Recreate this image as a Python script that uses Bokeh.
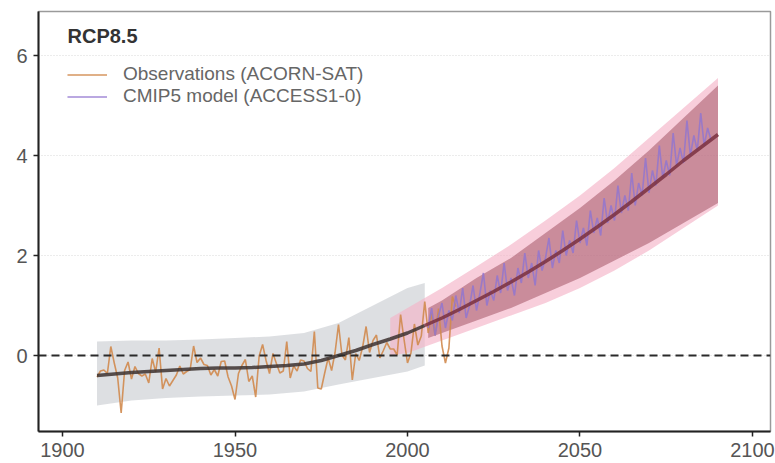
from bokeh.plotting import figure
from bokeh.models import Span, Legend, LegendItem, Label, FixedTicker
from bokeh.embed import file_html
from bokeh.resources import INLINE

# ---- data ----
obs_years = list(range(1910, 2015))
obs_values = [-0.43, -0.31, -0.29, -0.36, 0.18, -0.15, -0.45, -1.15, -0.30, -0.13,
              -0.47, -0.22, -0.36, -0.41, -0.37, -0.55, -0.06, -0.33, 0.15, -0.67,
              -0.46, -0.61, -0.50, -0.39, -0.21, -0.37, -0.32, -0.28, 0.19, -0.14,
              -0.05, -0.18, -0.20, -0.39, -0.28, -0.41, -0.12, -0.11, -0.43, -0.61,
              -0.88, -0.36, -0.20, -0.08, -0.52, -0.41, -0.83, -0.01, 0.22, -0.10,
              -0.36, 0.04, -0.16, -0.35, -0.31, 0.28, -0.45, -0.21, -0.31, -0.09,
              -0.11, -0.26, -0.32, 0.48, -0.65, -0.67, -0.35, -0.05, -0.30, 0.06,
              0.62, 0.01, -0.09, 0.36, -0.49, 0.04, -0.10, 0.17, 0.58, 0.06,
              0.30, 0.41, -0.05, 0.10, 0.26, 0.13, 0.13, 0.01, 0.82, 0.32,
              -0.15, 0.05, 0.63, 0.21, 0.39, 1.08, 0.45, 0.84, 0.40, 0.94,
              0.19, -0.15, 0.15, 1.18, 0.98]

model_years = list(range(2006, 2089))
model_values = [0.55, 0.95, 0.40, 0.80, 1.05, 0.55, 0.90, 0.70, 1.20, 0.85,
                1.35, 0.75, 1.00, 1.40, 0.90, 1.25, 1.65, 1.00, 1.30, 1.10,
                1.60, 1.25, 1.85, 1.30, 1.55, 1.20, 1.75, 1.45, 2.05, 1.55,
                1.85, 1.40, 2.10, 1.70, 1.95, 2.35, 1.75, 2.10, 1.85, 2.50,
                2.00, 2.30, 2.05, 2.70, 2.25, 2.55, 2.20, 2.90, 2.45, 2.75,
                2.40, 3.15, 2.65, 3.00, 2.70, 3.40, 2.85, 3.20, 2.90, 3.65,
                3.00, 3.45, 3.20, 3.95, 3.25, 3.70, 3.40, 4.20, 3.55, 3.90,
                3.60, 4.45, 3.80, 4.15, 3.85, 4.70, 4.00, 4.40, 4.10, 4.85,
                4.20, 4.55, 4.30]

trend_years = list(range(1910, 2095, 5))
trend_values = [-0.40, -0.37, -0.34, -0.32, -0.30, -0.28, -0.26, -0.25, -0.25, -0.24,
                -0.22, -0.20, -0.17, -0.10, 0.00, 0.10, 0.22, 0.33, 0.45, 0.60,
                0.75, 0.92, 1.10, 1.28, 1.47, 1.67, 1.88, 2.10, 2.33, 2.57,
                2.82, 3.08, 3.35, 3.62, 3.90, 4.16, 4.42]

grey_years = [1910, 1920, 1930, 1940, 1950, 1960, 1970, 1980, 1990, 2000, 2005]
grey_low = [-1.00, -0.90, -0.85, -0.82, -0.80, -0.78, -0.72, -0.58, -0.45, -0.32, -0.20]
grey_high = [0.28, 0.30, 0.30, 0.32, 0.35, 0.38, 0.45, 0.65, 1.00, 1.35, 1.45]

pink_years = [1995, 2000, 2010, 2020, 2030, 2040, 2050, 2060, 2070, 2080, 2090]
pink_low = [0.00, 0.05, 0.30, 0.55, 0.80, 1.05, 1.35, 1.70, 2.10, 2.55, 3.00]
pink_high = [0.75, 0.95, 1.35, 1.78, 2.22, 2.70, 3.20, 3.75, 4.35, 4.95, 5.55]

maroon_years = [2006, 2010, 2020, 2030, 2040, 2050, 2060, 2070, 2080, 2090]
maroon_low = [0.35, 0.45, 0.70, 0.95, 1.25, 1.55, 1.90, 2.25, 2.65, 3.05]
maroon_high = [0.95, 1.10, 1.55, 1.95, 2.45, 2.95, 3.50, 4.10, 4.75, 5.40]

x_ticks = [1900, 1950, 2000, 2050, 2100]
y_ticks = [0, 2, 4, 6]
legend_title = "RCP8.5"
obs_label = "Observations (ACORN-SAT)"
model_label = "CMIP5 model (ACCESS1-0)"

FONT = "Liberation Sans"

p = figure(width=775, height=463, x_range=(1893.04, 2105.22), y_range=(-1.52, 6.88),
           output_backend="svg", toolbar_location=None,
           min_border_left=38, min_border_right=5, min_border_top=11, min_border_bottom=32)
p.background_fill_color = "white"
p.border_fill_color = "white"
p.outline_line_color = "#9a9a9a"
p.outline_line_width = 1.5

# grid
p.xgrid.grid_line_color = None
p.ygrid.ticker = FixedTicker(ticks=y_ticks)
p.ygrid.grid_line_color = "#d8d8d8"
p.ygrid.grid_line_dash = "1 2"
p.ygrid.grid_line_width = 1

# bands
p.varea(x=grey_years, y1=grey_low, y2=grey_high, fill_color="#cfd2d5", fill_alpha=0.7)
p.varea(x=pink_years, y1=pink_low, y2=pink_high, fill_color="#f5b3c8", fill_alpha=0.65)
p.varea(x=maroon_years, y1=maroon_low, y2=maroon_high, fill_color="#9c4a5c", fill_alpha=0.5)

# annual series
obs_r = p.line(obs_years, obs_values, line_color="#d08a4e", line_width=1.6, line_alpha=0.9)
mod_r = p.line(model_years, model_values, line_color="#9275cf", line_width=1.6, line_alpha=0.85)

# trend
t_obs_x = [y for y in trend_years if y <= 2005]
t_obs_y = [v for y, v in zip(trend_years, trend_values) if y <= 2005]
t_mod_x = [y for y in trend_years if y >= 2005]
t_mod_y = [v for y, v in zip(trend_years, trend_values) if y >= 2005]
p.line(t_obs_x, t_obs_y, line_color="#3d3330", line_width=3.5, line_alpha=0.85)
p.line(t_mod_x, t_mod_y, line_color="#7a3040", line_width=3.5, line_alpha=0.85)

# zero line
p.add_layout(Span(location=0, dimension="width", line_color="#2a2a2a", line_width=2,
                  line_dash="8 5"))

# axes
for ax in (p.xaxis[0], p.yaxis[0]):
    ax.axis_line_color = "#222222"
    ax.axis_line_width = 2
    ax.major_tick_line_color = "#222222"
    ax.major_tick_line_width = 1.5
    ax.major_tick_out = 5
    ax.major_tick_in = 0
    ax.minor_tick_line_color = None
    ax.major_label_text_font = FONT
    ax.major_label_text_font_size = "20px"
    ax.major_label_text_color = "#555555"
p.xaxis.major_label_standoff = 6
p.yaxis.major_label_standoff = 6
p.xaxis.ticker = FixedTicker(ticks=x_ticks)
p.yaxis.ticker = FixedTicker(ticks=y_ticks)

# legend
legend = Legend(items=[LegendItem(label=obs_label, renderers=[obs_r]),
                       LegendItem(label=model_label, renderers=[mod_r])],
                location=(29, 324), orientation="vertical")
legend.background_fill_alpha = 0
legend.border_line_color = None
legend.padding = 0
legend.margin = 0
legend.spacing = 0
legend.glyph_width = 40
legend.glyph_height = 21
legend.label_height = 21
legend.label_standoff = 16
legend.label_text_font = FONT
legend.label_text_font_size = "19px"
legend.label_text_color = "#666666"
p.add_layout(legend)

p.add_layout(Label(x=29, y=396, x_units="screen", y_units="screen", text=legend_title,
                   text_font=FONT, text_font_size="20px", text_font_style="bold",
                   text_color="#333333", text_baseline="middle"))

open("out.html", "w").write(file_html(p, INLINE))
